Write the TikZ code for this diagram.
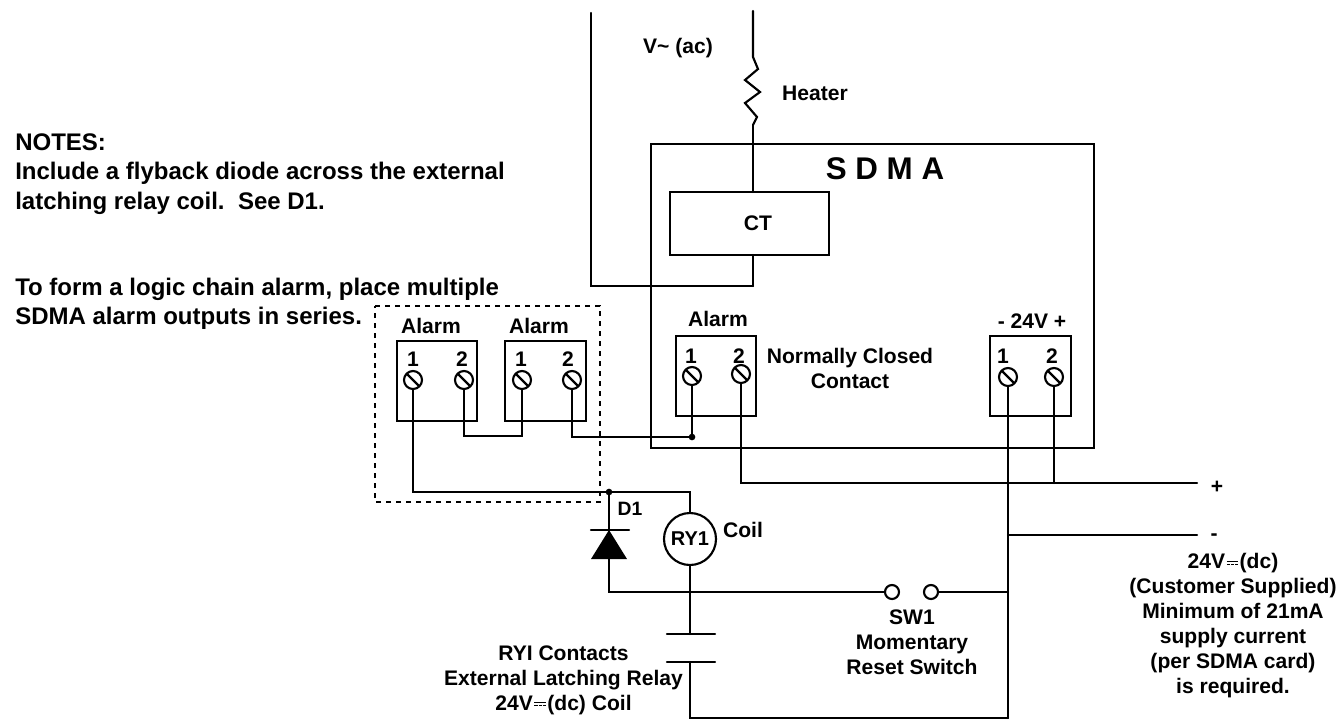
\documentclass[tikz,border=0pt]{standalone}
\usepackage{tkz-euclide}
\usepackage{tikz}
\usepackage{fontspec}
\setmainfont{Liberation Sans}
\newcommand{\dcmark}{\kern1.2pt\raisebox{5.4pt}{\rlap{\rule{8.5pt}{0.7pt}}}\raisebox{3.2pt}{\rule{2.3pt}{0.7pt}\kern0.8pt\rule{2.3pt}{0.7pt}\kern0.8pt\rule{2.3pt}{0.7pt}}\kern1.2pt}
\tikzset{
  wire/.style={line width=1.6pt,line cap=round,line join=miter},
  block/.style={draw,line width=1.6pt,rectangle,inner sep=0pt},
  screw/.style={draw,circle,line width=1.6pt,minimum size=18pt*0.75,inner sep=0pt,
    path picture={\draw[line width=1.6pt] (path picture bounding box.north west) -- (path picture bounding box.south east);}},
  joint/.style={fill,circle,minimum size=5pt,inner sep=0pt},
  ring/.style={draw,circle,line width=1.6pt,fill=white,minimum size=10.5pt,inner sep=0pt},
  lbl/.style={font=\bfseries\fontsize{15.8}{18.75}\selectfont,inner sep=0pt,align=center},
  lblnote/.style={font=\bfseries\fontsize{18}{22}\selectfont,inner sep=0pt,align=left,anchor=west}
}
\begin{document}
\begin{tikzpicture}[x=0.75pt,y=-0.75pt]
    \useasboundingbox (0,0) rectangle (1343,719);
    \tkzDefPoints{591/13/LT,591/286/LB,753/286/CB,753/255/CS,753/192/CN,753/11/HT,753/57/Ra,758/69/Rb,745/80/Rc,760/92/Rd,745/103/Re,757/117/Rf,753/125/Rg}
    \tkzDefPoints{464/436/Pa,522/436/Pb,572/437/Pc,692/437/Dt,413/492/Pd,609/492/Ju,690/492/Pe}
    \tkzDefPoints{741/483/Pf,1054/483/Pg,1197/483/Ph,1008/535/Pi,1197/535/Pj,1008/483/Pk}
    \tkzDefPoints{609/530/Da,609/592/Db,690/592/Dc,1008/592/Dd,690/634/Ca,667/634/Cb,715/634/Cc,690/662/Ce,667/662/Cf,715/662/Cg,690/718/Ch,1008/718/Ci}
    \tkzDefPoints{375/306/Ma,600/306/Mb,600/502/Mc,375/502/Md}
    \tkzDefPoints{591/530/Ta,629/530/Tb,609/559/Tc,591/559/Td,627/559/Te}
    \node[block,minimum width=443*0.75pt,minimum height=304*0.75pt] (sdma) at (872.5,296) {};
    \node[block,fill=white,minimum width=159*0.75pt,minimum height=63*0.75pt] (ct) at (749.5,223.5) {};
    \node[block,minimum width=80*0.75pt,minimum height=80*0.75pt] (boxa) at (437,381) {};
    \node[block,minimum width=81*0.75pt,minimum height=80*0.75pt] (boxb) at (545.5,381) {};
    \node[block,minimum width=80*0.75pt,minimum height=80*0.75pt] (boxc) at (716,376) {};
    \node[block,minimum width=81*0.75pt,minimum height=80*0.75pt] (boxd) at (1030.5,376) {};
    \node[screw] (sa) at (413,380) {};
    \node[screw] (sb) at (464,380) {};
    \node[screw] (sc) at (522,380) {};
    \node[screw] (sd) at (572,380) {};
    \node[screw] (se) at (692,376) {};
    \node[screw] (sf) at (741,374) {};
    \node[screw] (sg) at (1008,377) {};
    \node[screw] (sh) at (1054,377) {};
    \node[draw,circle,line width=1.6pt,minimum size=52*0.75pt,inner sep=0pt] (ry) at (690,539) {};
    \node[ring] (swa) at (892,592) {};
    \node[ring] (swb) at (931,592) {};
    \node[joint] (dota) at (Dt) {};
    \node[joint] (dotb) at (Ju) {};
    \tkzDrawPolySeg[wire](LT,LB,CB)
    \tkzDrawPolySeg[wire](HT,Ra,Rb,Rc,Rd,Re,Rf,Rg)
    \tkzDrawSegments[wire](Rg,CN CB,CS)
    \tkzDrawPolySeg[wire](sb.south,Pa,Pb,sc.south)
    \tkzDrawPolySeg[wire](sd.south,Pc,Dt,se.south)
    \tkzDrawPolySeg[wire](sa.south,Pd,Pe,ry.north)
    \tkzDrawPolySeg[wire](sf.south,Pf,Ph)
    \tkzDrawSegments[wire](sh.south,Pg sg.south,Pk Pk,Ci Pi,Pj Ju,Da)
    \tkzDrawPolySeg[wire](Tc,Db,swa.west)
    \tkzDrawSegments[wire](swb.east,Dd ry.south,Ca Cb,Cc Cf,Cg)
    \tkzDrawPolySeg[wire](Ce,Ch,Ci)
    \tkzDrawSegments[wire](Ta,Tb)
    \fill (Tb -| Tc) -- (Te) -- (Td) -- cycle;
    \draw[line width=1.6pt,dash pattern=on 3.75pt off 3.75pt] (Ma) -- (Mb) -- (Mc) -- (Md) -- cycle;
    \node[lblnote] (notes) at (15,142) {NOTES:};
    \node[lblnote] (notea) at (15,188.5) {Include a flyback diode across the external\\latching relay coil.\ \ See D1.};
    \node[lblnote] (noteb) at (15,304) {To form a logic chain alarm, place multiple\\SDMA alarm outputs in series.};
    \node[lbl] (volt) at (678,48) {V\textasciitilde{} (ac)};
    \node[lbl] (heat) at (815,93) {Heater};
    \node[lbl,font=\bfseries\fontsize{23.5}{26}\selectfont] (title) at (885,169) {S D M A};
    \node[lbl] (ctl) at (758,223) {CT};
    \node[lbl] (ala) at (431,326) {Alarm};
    \node[lbl] (alb) at (539,326) {Alarm};
    \node[lbl] (alc) at (718,319) {Alarm};
    \node[lbl] (ald) at (1032,321) {- 24V +};
    \node[lbl] (na) at (413,359) {1};
    \node[lbl] (nb) at (462,359) {2};
    \node[lbl] (nc) at (521,359) {1};
    \node[lbl] (nd) at (568,359) {2};
    \node[lbl] (ne) at (691,356) {1};
    \node[lbl] (nf) at (739,356) {2};
    \node[lbl] (ng) at (1003,356) {1};
    \node[lbl] (nh) at (1052,356) {2};
    \node[lbl] (nc1) at (850,368.5) {Normally Closed\\Contact};
    \node[lbl,font=\bfseries\fontsize{14.5}{18}\selectfont] (d1) at (630,509) {D1};
    \node[lbl,font=\bfseries\fontsize{15}{18}\selectfont] (ryl) at (690,539) {RY1};
    \node[lbl] (coil) at (743,530) {Coil};
    \node[lbl] (sw) at (912,642.5) {SW1\\Momentary\\Reset Switch};
    \node[lbl] (rc) at (563.5,680) {RYI Contacts\\External Latching Relay\\24V\dcmark(dc) Coil};
    \node[lbl] (pl) at (1217,487) {+};
    \node[lbl] (mn) at (1214,537) {-};
    \node[lbl] (cust) at (1233,626) {24V\dcmark(dc)\\(Customer Supplied)\\Minimum of 21mA\\supply current\\(per SDMA card)\\is required.};
\end{tikzpicture}
\end{document}
